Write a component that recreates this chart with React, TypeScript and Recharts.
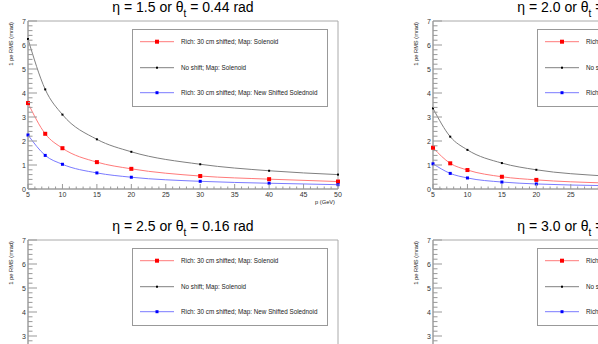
import React from 'react';
import { LineChart, Line, XAxis, YAxis, ReferenceArea, Legend } from 'recharts';

// momentum points (GeV) shared by every panel
const momenta = [5, 7.5, 10, 15, 20, 30, 40, 50];

// eta = 1.5
const richSolenoid15 = [3.58, 2.3, 1.7, 1.12, 0.84, 0.54, 0.41, 0.31];
const noShift15 = [6.25, 4.15, 3.1, 2.07, 1.55, 1.03, 0.76, 0.6];
const richNewMap15 = [2.25, 1.4, 1.03, 0.67, 0.49, 0.32, 0.24, 0.18];

// eta = 2.0
const richSolenoid20 = [1.72, 1.07, 0.79, 0.51, 0.38, 0.25, 0.19, 0.15];
const noShift20 = [3.36, 2.18, 1.63, 1.08, 0.8, 0.54, 0.4, 0.32];
const richNewMap20 = [1.05, 0.65, 0.46, 0.29, 0.21, 0.14, 0.1, 0.08];

// eta = 2.5 and 3.0 : curves sit below the visible crop, rough estimates
const richSolenoid25 = [1.0, 0.65, 0.48, 0.32, 0.24, 0.16, 0.12, 0.1];
const noShift25 = [2.1, 1.4, 1.05, 0.7, 0.52, 0.35, 0.26, 0.21];
const richNewMap25 = [0.6, 0.4, 0.3, 0.2, 0.15, 0.1, 0.08, 0.06];

const richSolenoid30 = [0.7, 0.45, 0.34, 0.22, 0.17, 0.11, 0.09, 0.07];
const noShift30 = [1.5, 1.0, 0.75, 0.5, 0.37, 0.25, 0.19, 0.15];
const richNewMap30 = [0.45, 0.3, 0.22, 0.15, 0.11, 0.07, 0.05, 0.04];

const seriesNames = [
  'Rich: 30 cm shifted; Map: Solenoid',
  'No shift; Map: Solenoid',
  'Rich: 30 cm shifted; Map: New Shifted Solednoid',
];

// minor ticks: every 1 GeV on x, every 0.2 on y (labels only on the majors)
const xTicks = Array.from({ length: 46 }, (_, i) => 5 + i);
const yTicks = Array.from({ length: 36 }, (_, i) => Math.round(i * 2) / 10);

const STYLE: Record<string, { line: string; mark: string; size: number }> = {
  rich: { line: '#ff7a7a', mark: '#ff0000', size: 4 },
  noShift: { line: '#808080', mark: '#000000', size: 2 },
  newMap: { line: '#7a7aff', mark: '#0000ff', size: 3 },
};

const W = 360;
const H = 213;
const M = { top: 21, right: 22, bottom: 0, left: 0 };
const Y_W = 28;
const X_H = 24;

const makeDot = (key: string) => (props: any) => {
  const s = STYLE[key].size;
  return (
    <rect
      key={`${key}-${props.index}`}
      x={props.cx - s / 2}
      y={props.cy - s / 2}
      width={s}
      height={s}
      fill={STYLE[key].mark}
    />
  );
};

const renderXTick = (props: any) => {
  const { x, y, payload, index } = props;
  const major = payload.value % 5 === 0;
  return (
    <g key={`xt-${index}`}>
      <line x1={x} x2={x} y1={y} y2={y - (major ? 5 : 2.5)} stroke="#999" strokeWidth={1} />
      {major && (
        <text x={x} y={y + 8} textAnchor="middle" fontSize={7} fill="#333">
          {payload.value}
        </text>
      )}
    </g>
  );
};

const renderYTick = (props: any) => {
  const { x, y, payload, index } = props;
  const major = Math.abs(payload.value - Math.round(payload.value)) < 1e-6;
  return (
    <g key={`yt-${index}`}>
      <line x1={x} x2={x + (major ? 9 : 4.5)} y1={y} y2={y} stroke="#999" strokeWidth={1} />
      {major && (
        <text x={x - 2} y={y + 2.5} textAnchor="end" fontSize={7} fill="#333">
          {payload.value}
        </text>
      )}
    </g>
  );
};

const order = ['rich', 'noShift', 'newMap'];

const renderLegend = (props: any) => {
  const items = [...(props.payload || [])].sort(
    (a: any, b: any) => order.indexOf(a.dataKey) - order.indexOf(b.dataKey)
  );
  const rows = [12.7, 38.7, 63.7];
  return (
    <svg width={196} height={78} style={{ display: 'block' }}>
      <rect x={0.5} y={0.5} width={195} height={77} fill="#fff" stroke="#999" />
      {items.map((e: any, i: number) => {
        const st = STYLE[e.dataKey];
        const cy = rows[i];
        return (
          <g key={e.dataKey}>
            <line x1={8} x2={42} y1={cy} y2={cy} stroke={st.line} strokeWidth={1} />
            <rect x={25 - st.size / 2} y={cy - st.size / 2} width={st.size} height={st.size} fill={st.mark} />
            <text x={49} y={cy + 2.2} fontSize={6.3} fill="#222">
              {e.value}
            </text>
          </g>
        );
      })}
    </svg>
  );
};

interface PanelProps {
  left: number;
  top: number;
  eta: string;
  theta: string;
  rich: number[];
  noShift: number[];
  newMap: number[];
}

const Panel: React.FC<PanelProps> = ({ left, top, eta, theta, rich, noShift, newMap }) => {
  const data = momenta.map((p, i) => ({ p, rich: rich[i], noShift: noShift[i], newMap: newMap[i] }));
  const cx = Y_W + (W - Y_W - M.right) / 2;
  return (
    <div style={{ position: 'absolute', left, top, width: W, height: H }}>
      <LineChart width={W} height={H} data={data} margin={M}>
        <ReferenceArea x1={5} x2={50} y1={0} y2={7} fill="none" stroke="#aaa" strokeWidth={1} ifOverflow="visible" />
        <XAxis
          dataKey="p"
          type="number"
          domain={[5, 50]}
          ticks={xTicks}
          interval={0}
          tickSize={0}
          tickMargin={0}
          height={X_H}
          tickLine={false}
          axisLine={{ stroke: '#999' }}
          tick={renderXTick}
        />
        <YAxis
          type="number"
          domain={[0, 7]}
          ticks={yTicks}
          interval={0}
          tickSize={0}
          tickMargin={0}
          width={Y_W}
          tickLine={false}
          axisLine={{ stroke: '#999' }}
          tick={renderYTick}
        />
        <Legend
          layout="vertical"
          align="center"
          verticalAlign="middle"
          wrapperStyle={{ left: 132, top: 29, width: 196, height: 78 }}
          content={renderLegend}
        />
        <Line dataKey="rich" name={seriesNames[0]} type="monotone" stroke={STYLE.rich.line} strokeWidth={1} dot={makeDot('rich')} isAnimationActive={false} />
        <Line dataKey="noShift" name={seriesNames[1]} type="monotone" stroke={STYLE.noShift.line} strokeWidth={1} dot={makeDot('noShift')} isAnimationActive={false} />
        <Line dataKey="newMap" name={seriesNames[2]} type="monotone" stroke={STYLE.newMap.line} strokeWidth={1} dot={makeDot('newMap')} isAnimationActive={false} />
      </LineChart>
      <svg width={W} height={H} style={{ position: 'absolute', left: 0, top: 0, pointerEvents: 'none' }}>
        <text x={cx} y={12} textAnchor="middle" fontSize={14} fill="#000">
          {`η = ${eta} or θ`}
          <tspan dy={5} fontSize={10}>t</tspan>
          <tspan dy={-5}>{` = ${theta} rad`}</tspan>
        </text>
        <text x={13} y={22} transform="rotate(-90 13 22)" textAnchor="end" fontSize={5.7} fill="#222">
          1 pe RMS (mrad)
        </text>
        <text x={W - M.right - 3} y={204} textAnchor="end" fontSize={5.7} fill="#222">
          p (GeV)
        </text>
      </svg>
    </div>
  );
};

export default function App() {
  return (
    <div
      style={{
        position: 'absolute',
        left: 0,
        top: 0,
        width: 598,
        height: 344,
        overflow: 'hidden',
        background: '#fff',
        fontFamily: '"Liberation Sans", Arial, sans-serif',
      }}
    >
      <Panel left={0} top={0} eta="1.5" theta="0.44" rich={richSolenoid15} noShift={noShift15} newMap={richNewMap15} />
      <Panel left={405} top={0} eta="2.0" theta="0.27" rich={richSolenoid20} noShift={noShift20} newMap={richNewMap20} />
      <Panel left={0} top={219} eta="2.5" theta="0.16" rich={richSolenoid25} noShift={noShift25} newMap={richNewMap25} />
      <Panel left={405} top={219} eta="3.0" theta="0.10" rich={richSolenoid30} noShift={noShift30} newMap={richNewMap30} />
    </div>
  );
}
